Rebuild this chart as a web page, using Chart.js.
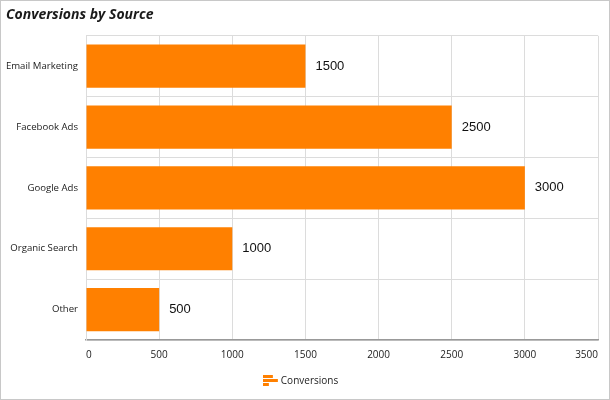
<!DOCTYPE html>
<html>
<head>
<meta charset="utf-8">
<script src="https://cdn.jsdelivr.net/npm/chart.js@4"></script>
<style>
  html, body { margin: 0; padding: 0; background: #fff; }
  #wrap { width: 608px; height: 398px; border: 1px solid #c8c8c8; position: relative; }
</style>
</head>
<body>
<div id="wrap"><canvas id="myChart" width="608" height="398"></canvas></div>
<script>
const sources = ['Email Marketing', 'Facebook Ads', 'Google Ads', 'Organic Search', 'Other'];
const conversions = [1500, 2500, 3000, 1000, 500];
const xTicks = [0, 500, 1000, 1500, 2000, 2500, 3000, 3500];

const orange = '#ff8000';

// small bar-shaped icon for the legend
function makeLegendIcon() {
    const c = document.createElement('canvas');
    c.width = 16; c.height = 12;
    const g = c.getContext('2d');
    g.fillStyle = orange;
    g.fillRect(0, 0, 10, 3);
    g.fillRect(0, 4, 15, 3);
    g.fillRect(0, 8, 6, 3);
    return c;
}

// draws the value next to the end of each bar
const valueLabels = {
    id: 'valueLabels',
    afterDatasetsDraw(chart) {
        const ctx = chart.ctx;
        const meta = chart.getDatasetMeta(0);
        ctx.save();
        ctx.font = '13px "Liberation Sans", Arial, sans-serif';
        ctx.fillStyle = '#111';
        ctx.textAlign = 'left';
        ctx.textBaseline = 'middle';
        meta.data.forEach((bar, i) => {
            ctx.fillText(String(conversions[i]), bar.x + 10, bar.y);
        });
        ctx.restore();
    }
};

const ctx = document.getElementById('myChart').getContext('2d');
const myChart = new Chart(ctx, {
    type: 'bar',
    data: {
        labels: sources,
        datasets: [{
            label: 'Conversions',
            data: conversions,
            backgroundColor: orange,
            borderWidth: 0,
            barPercentage: 0.71,
            categoryPercentage: 1.0
        }]
    },
    options: {
        indexAxis: 'y',
        responsive: false,
        animation: false,
        layout: { padding: { left: 5, right: 11, top: 0, bottom: 3 } },
        scales: {
            x: {
                min: 0,
                max: 3500,
                afterBuildTicks(axis) { axis.ticks = xTicks.map(v => ({ value: v })); },
                afterFit(axis) {
                    axis.paddingRight = 0;
                    axis.height = axis.height - 5;
                },
                grid: { color: '#dcdcdc', drawTicks: false },
                border: { color: '#999', width: 1.5 },
                ticks: {
                    color: '#222',
                    padding: 9,
                    align: 'inner',
                    callback: v => String(v),
                    font: { family: '"Open Sans", sans-serif', size: 10 }
                }
            },
            y: {
                afterFit(axis) { axis.width = 80; },
                grid: { color: '#dcdcdc', drawTicks: false, offset: true },
                border: { color: '#dcdcdc' },
                ticks: {
                    color: '#222',
                    padding: 8,
                    font: { family: '"Open Sans", sans-serif', size: 9.6 }
                }
            }
        },
        plugins: {
            title: {
                display: true,
                text: 'Conversions by Source',
                align: 'start',
                color: '#1a1a1a',
                font: { family: '"Open Sans", sans-serif', size: 14, weight: 'bold', style: 'italic' },
                padding: { top: 6, bottom: 12 }
            },
            legend: {
                position: 'bottom',
                labels: {
                    usePointStyle: true,
                    pointStyle: makeLegendIcon(),
                    color: '#222',
                    padding: 11,
                    font: { family: '"Open Sans", sans-serif', size: 10 }
                }
            },
            tooltip: { enabled: false }
        }
    },
    plugins: [valueLabels]
});
</script>
</body>
</html>
